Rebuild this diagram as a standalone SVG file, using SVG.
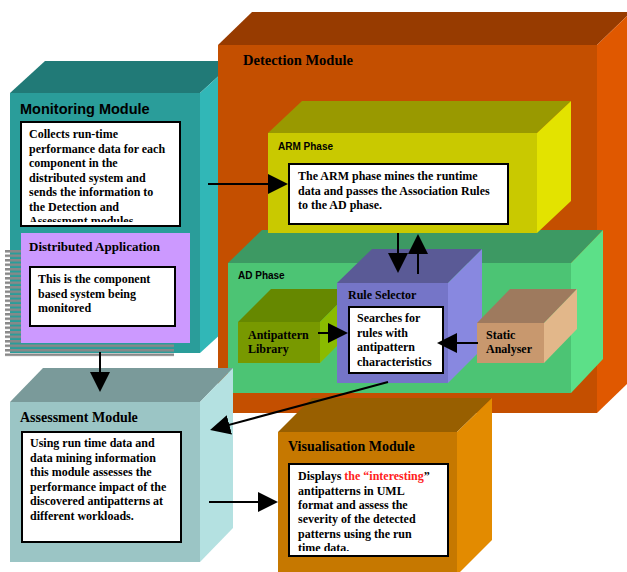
<svg xmlns="http://www.w3.org/2000/svg" width="627" height="572" viewBox="0 0 627 572">
<style>
.serif{font-family:"Liberation Serif","Times New Roman",serif;font-weight:bold;fill:#000}
.sans{font-family:"Liberation Sans",Arial,sans-serif;font-weight:bold;fill:#000}
.title{font-size:14px}
.body{font-size:12px}
.box{fill:#fff;stroke:#000;stroke-width:2}
.conn{stroke:#000;stroke-width:2;fill:none;marker-end:url(#ah)}
.red{fill:#ff2020}
</style>
<defs>
<marker id="ah" markerUnits="userSpaceOnUse" markerWidth="20" markerHeight="20" refX="10" refY="10" orient="auto" viewBox="0 0 20 20">
<path d="M0,0 L20,10 L0,20 z" fill="#000"/>
</marker>
<pattern id="stripes" patternUnits="userSpaceOnUse" x="0" y="250" width="10" height="4.5">
<rect x="0" y="0" width="10" height="2.5" fill="#888"/>
</pattern>
<clipPath id="clipMon"><rect x="22" y="123" width="157" height="99"/></clipPath>
<clipPath id="clipVis"><rect x="290" y="465" width="156" height="86"/></clipPath>
</defs>

<g id="monitoring-module">
<polygon points="10,93 45,61 235,61 200,93" fill="#217A77"/>
<polygon points="200,93 235,61 235,321 200,353" fill="#31B7B7"/>
<rect x="10" y="93" width="190" height="260" fill="#2A9D9A"/>
<text class="sans" x="20" y="114" font-size="14.5">Monitoring Module</text>
<rect class="box" x="21" y="122" width="159" height="104"/>
<text class="serif body" clip-path="url(#clipMon)">
<tspan x="29" y="138">Collects run-time</tspan>
<tspan x="29" y="152.5">performance data for each</tspan>
<tspan x="29" y="167">component in the</tspan>
<tspan x="29" y="181.5">distributed system and</tspan>
<tspan x="29" y="196">sends the information to</tspan>
<tspan x="29" y="210.5">the Detection and</tspan>
<tspan x="29" y="225">Assessment modules</tspan>
</text>
</g>

<g id="distributed-application">
<rect x="5" y="250" width="169" height="107" fill="url(#stripes)"/>
<rect x="21" y="233" width="169" height="110" fill="#CC99FF"/>
<text class="serif" x="29" y="251" font-size="13">Distributed Application</text>
<rect class="box" x="30" y="267" width="145" height="59"/>
<text class="serif body">
<tspan x="38" y="283">This is the component</tspan>
<tspan x="38" y="297.5">based system being</tspan>
<tspan x="38" y="312">monitored</tspan>
</text>
</g>

<g id="detection-module">
<polygon points="218,45 252,12 631,12 597,45" fill="#973B00"/>
<polygon points="597,45 631,12 631,380 597,413" fill="#E05800"/>
<rect x="218" y="45" width="379" height="368" fill="#C44F00"/>
<text class="serif" x="243" y="65" font-size="14.5">Detection Module</text>
</g>

<g id="ad-phase">
<polygon points="228,263 262,230 603,230 571,263" fill="#3D9963"/>
<polygon points="571,263 603,230 603,359 571,393" fill="#5CE088"/>
<rect x="228" y="263" width="343" height="130" fill="#4CC474"/>
<text class="sans" x="238" y="279" font-size="10">AD Phase</text>
</g>

<g id="arm-phase">
<polygon points="268,133 302,101 571,101 537,133" fill="#999900"/>
<polygon points="537,133 571,101 571,201 537,233" fill="#E3E300"/>
<rect x="268" y="133" width="269" height="100" fill="#C9C900"/>
<text class="sans" x="278" y="150" font-size="10">ARM Phase</text>
<rect class="box" x="289" y="164" width="219" height="60"/>
<text class="serif body">
<tspan x="298" y="180">The ARM phase mines the runtime</tspan>
<tspan x="298" y="194.5">data and passes the Association Rules</tspan>
<tspan x="298" y="209">to the AD phase.</tspan>
</text>
</g>

<g id="antipattern-library">
<polygon points="238,322 271,289 353,289 320,322" fill="#668800"/>
<polygon points="320,322 353,289 353,330 320,363" fill="#8ABB00"/>
<rect x="238" y="322" width="82" height="41" fill="#789900"/>
<text class="serif body">
<tspan x="248" y="339">Antipattern</tspan>
<tspan x="248" y="353">Library</tspan>
</text>
</g>

<g id="rule-selector">
<polygon points="337,283 372,249 482,249 448,283" fill="#5A5A96"/>
<polygon points="448,283 482,249 482,349 448,383" fill="#8888E0"/>
<rect x="337" y="283" width="111" height="100" fill="#7575C8"/>
<text class="serif body" x="348" y="299">Rule Selector</text>
<rect class="box" x="349" y="307" width="94" height="66"/>
<text class="serif body">
<tspan x="357" y="322">Searches for</tspan>
<tspan x="357" y="336.5">rules with</tspan>
<tspan x="357" y="351">antipattern</tspan>
<tspan x="357" y="365.5">characteristics</tspan>
</text>
</g>

<g id="static-analyser">
<polygon points="477,323 510,289 577,289 544,323" fill="#9E7A5E"/>
<polygon points="544,323 577,289 577,329 544,363" fill="#E2B78A"/>
<rect x="477" y="323" width="67" height="40" fill="#C8986E"/>
<text class="serif body">
<tspan x="486" y="339">Static</tspan>
<tspan x="486" y="353">Analyser</tspan>
</text>
</g>

<g id="assessment-module">
<polygon points="10,402 43,368 233,368 200,402" fill="#7A9A9A"/>
<polygon points="200,402 233,368 233,528 200,562" fill="#B4E1E1"/>
<rect x="10" y="402" width="190" height="160" fill="#9BC5C5"/>
<text class="serif title" x="20" y="422">Assessment Module</text>
<rect class="box" x="22" y="432" width="159" height="110"/>
<text class="serif body">
<tspan x="30" y="447">Using run time data and</tspan>
<tspan x="30" y="461.5">data mining information</tspan>
<tspan x="30" y="476">this module assesses the</tspan>
<tspan x="30" y="490.5">performance impact of the</tspan>
<tspan x="30" y="505">discovered antipatterns at</tspan>
<tspan x="30" y="519.5">different workloads.</tspan>
</text>
</g>

<g id="visualisation-module">
<polygon points="278,432 312,398 492,398 457,432" fill="#985F00"/>
<polygon points="457,432 492,398 492,540 457,575" fill="#E38B00"/>
<rect x="278" y="432" width="179" height="142" fill="#C67800"/>
<text class="serif title" x="288" y="451">Visualisation Module</text>
<rect class="box" x="289" y="464" width="159" height="92"/>
<text class="serif body" clip-path="url(#clipVis)">
<tspan x="298" y="480">Displays <tspan class="red">the “interesting</tspan>”</tspan>
<tspan x="298" y="494.5">antipatterns in UML</tspan>
<tspan x="298" y="509">format and assess the</tspan>
<tspan x="298" y="523">severity of the detected</tspan>
<tspan x="298" y="537.5">patterns using the run</tspan>
<tspan x="298" y="552">time data.</tspan>
</text>
</g>

<g id="connectors">
<line class="conn" x1="208" y1="184" x2="278" y2="184"/>
<line class="conn" x1="398" y1="233" x2="398" y2="263"/>
<line class="conn" x1="418" y1="274" x2="418" y2="244"/>
<line class="conn" x1="318" y1="333" x2="338" y2="333"/>
<line class="conn" x1="478" y1="343" x2="447" y2="343"/>
<line class="conn" x1="388" y1="382" x2="219.7" y2="427.4"/>
<line class="conn" x1="100" y1="352" x2="100" y2="382"/>
<line class="conn" x1="209" y1="502" x2="268" y2="502"/>
</g>
</svg>
